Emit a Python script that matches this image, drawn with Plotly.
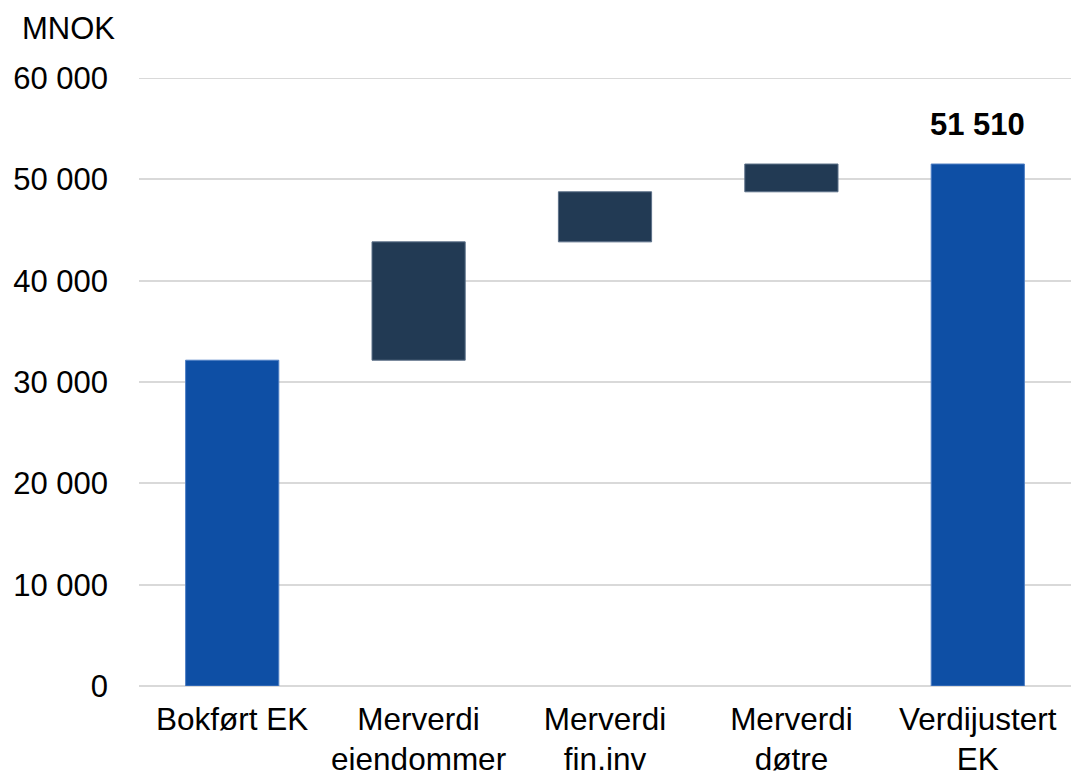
import plotly.graph_objects as go

# Equity bridge, MNOK
categories = ["Bokført EK", "Merverdi<br>eiendommer", "Merverdi<br>fin.inv", "Merverdi<br>døtre", "Verdijustert<br>EK"]
measures = ["absolute", "relative", "relative", "relative", "total"]
values = [32150, 11680, 4940, 2740, 0]
y_max = 60000

total = sum(values)
total_label = f"{total:,}".replace(",", " ")

FONT = "Liberation Sans, Arial, sans-serif"
BLUE = "#0E4FA5"
NAVY = "#223A54"
GRID = "#D9D9D9"

fig = go.Figure(go.Waterfall(
    x=categories,
    measure=measures,
    y=values,
    totals=dict(marker=dict(color=BLUE, line=dict(color="#4F7FC4", width=1))),
    increasing=dict(marker=dict(color=NAVY, line=dict(color="#5C7088", width=1))),
    decreasing=dict(marker=dict(color=NAVY, line=dict(color="#5C7088", width=1))),
    connector=dict(visible=False),
    hoverinfo="skip",
))

# top gridline sits on the range edge, so draw it explicitly
fig.add_shape(
    type="line", xref="paper", yref="y", x0=0, x1=1, y0=y_max, y1=y_max,
    line=dict(color=GRID, width=2), layer="below",
)

fig.add_annotation(
    x=categories[-1], y=total, xref="x", yref="y",
    text=f"<b>{total_label}</b>", showarrow=False,
    yanchor="bottom", yshift=20,
    font=dict(family=FONT, size=31, color="#000000"),
)

fig.add_annotation(
    x=-0.128, y=1.082, xref="paper", yref="paper",
    text="MNOK", showarrow=False, xanchor="left", yanchor="middle",
    font=dict(family=FONT, size=31, color="#000000"),
)

fig.update_layout(
    width=1071, height=777,
    margin=dict(l=139, r=0, t=78, b=89),
    paper_bgcolor="white", plot_bgcolor="white",
    waterfallgap=0.5,
    separators=", ",
    showlegend=False,
    font=dict(family=FONT, size=31, color="#000000"),
    xaxis=dict(
        showgrid=False, showline=False, ticks="",
        tickfont=dict(family=FONT, size=31.5, color="#000000"),
        ticklabelstandoff=11,
    ),
    yaxis=dict(
        range=[0, y_max], dtick=10000, tickformat=",d",
        showgrid=True, gridcolor=GRID, gridwidth=2,
        zeroline=True, zerolinecolor=GRID, zerolinewidth=2,
        showline=False, ticks="",
        tickfont=dict(family=FONT, size=31, color="#000000"),
        ticklabelstandoff=30,
    ),
)

fig.write_html("out.html")
